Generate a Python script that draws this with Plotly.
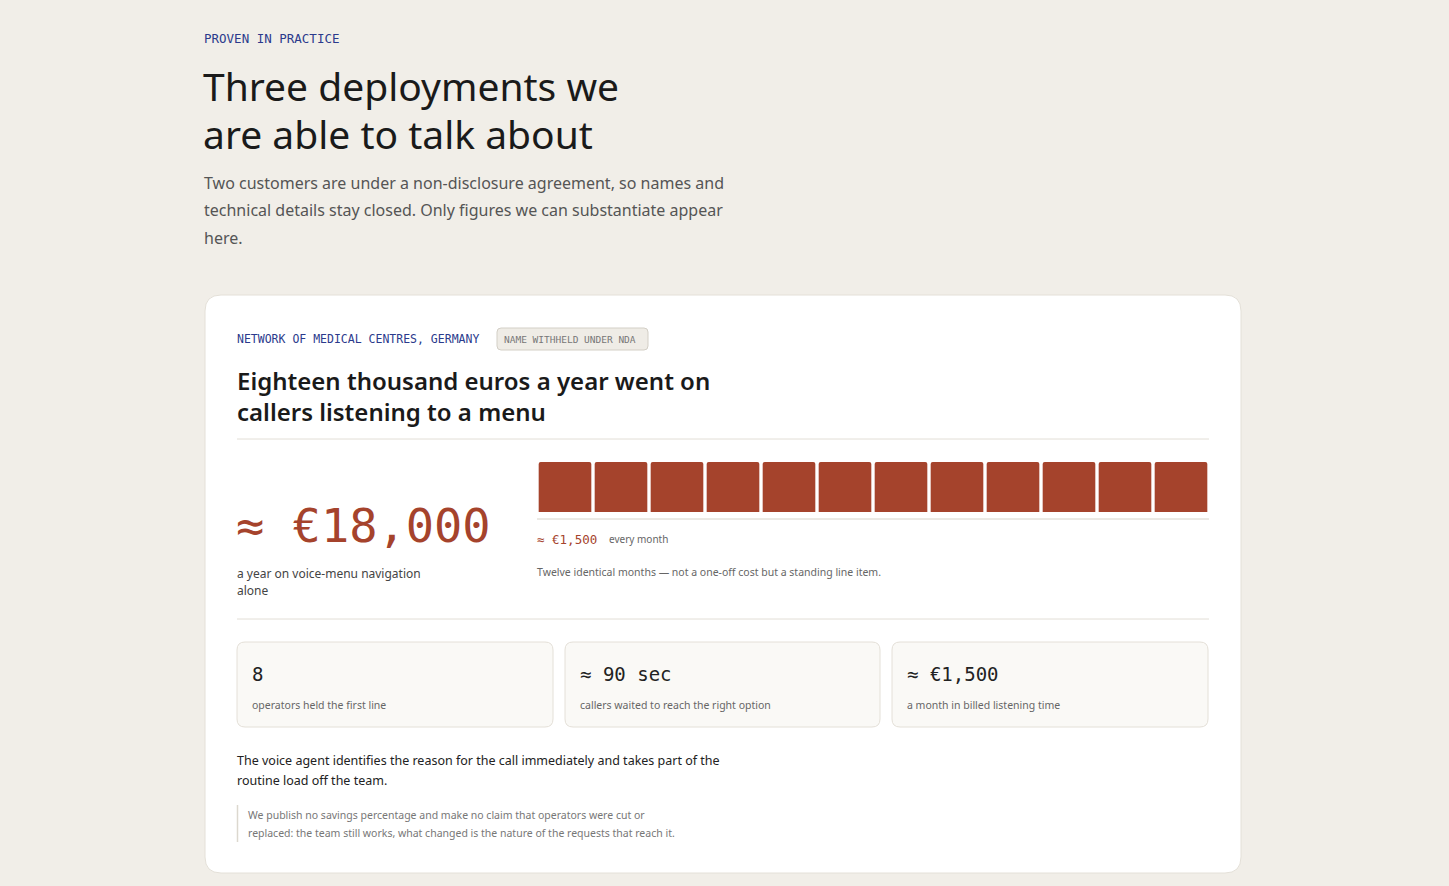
import plotly.graph_objects as go

months = ["Jan","Feb","Mar","Apr","May","Jun","Jul","Aug","Sep","Oct","Nov","Dec"]
monthly_cost = [1500]*12
stat_values = ["8", "≈ 90 sec", "≈ €1,500"]
stat_labels = ["operators held the first line", "callers waited to reach the right option", "a month in billed listening time"]

W, H = 1449, 886
def fx(px): return px / W
def fy(py): return 1 - py / H

SANS = "Noto Sans, Inter, sans-serif"
MONO = "DejaVu Sans Mono, Liberation Mono, monospace"
RUST = "#a5432c"

fig = go.Figure(go.Bar(x=months, y=monthly_cost, marker=dict(color=RUST, cornerradius=2, line=dict(width=0)),
                       hoverinfo="skip"))

def rrect(x0, y0, x1, y1, r, fill, line, lw=1):
    X0, X1 = fx(x0), fx(x1)
    Y0, Y1 = fy(y0), fy(y1)
    rx, ry = r / W, r / H
    p = (f"M {X0+rx} {Y0} L {X1-rx} {Y0} Q {X1} {Y0} {X1} {Y0-ry} "
         f"L {X1} {Y1+ry} Q {X1} {Y1} {X1-rx} {Y1} L {X0+rx} {Y1} Q {X0} {Y1} {X0} {Y1+ry} "
         f"L {X0} {Y0-ry} Q {X0} {Y0} {X0+rx} {Y0} Z")
    return dict(type="path", xref="paper", yref="paper", path=p, fillcolor=fill,
                line=dict(color=line, width=lw), layer="below")

def hline(x0, x1, y, color="#e2ded6"):
    return dict(type="line", xref="paper", yref="paper", x0=fx(x0), x1=fx(x1), y0=fy(y), y1=fy(y),
                line=dict(color=color, width=1))

shapes = [
    rrect(205, 295, 1241, 873, 16, "#ffffff", "#e4e0d8"),
    rrect(497, 328, 648, 350, 4, "#efece6", "#d3cfc6"),
    hline(237, 1209, 439),
    hline(537, 1209, 519, "#d6d2c9"),
    hline(237, 1209, 619),
    dict(type="line", xref="paper", yref="paper", x0=fx(237.5), x1=fx(237.5), y0=fy(805), y1=fy(842),
         line=dict(color="#dcd8cf", width=1.5)),
]
for bx in [(237, 553), (565, 880), (892, 1208)]:
    shapes.append(rrect(bx[0], 642, bx[1], 727, 8, "#faf9f6", "#e4e0d8"))

ann = []
def t(x, y, text, size, color, font=SANS, weight=None):
    f = dict(family=font, size=size, color=color)
    if weight: f["weight"] = weight
    ann.append(dict(x=fx(x), y=fy(y), xref="paper", yref="paper", text=text, showarrow=False,
                    xanchor="left", yanchor="middle", font=f))

t(202, 38, "PROVEN IN PRACTICE", 12.5, "#2b3a8c", MONO)
t(201, 85, "Three deployments we", 39, "#1a1a1a")
t(201, 133, "are able to talk about", 39, "#1a1a1a")
t(202, 183, "Two customers are under a non-disclosure agreement, so names and", 16, "#555555")
t(202, 210, "technical details stay closed. Only figures we can substantiate appear", 16, "#555555")
t(202, 238, "here.", 16, "#555555")

t(235, 339, "NETWORK OF MEDICAL CENTRES, GERMANY", 11.5, "#2b3a8c", MONO)
t(502, 339, "NAME WITHHELD UNDER NDA", 9.5, "#777777", MONO)
t(235, 381, "Eighteen thousand euros a year went on", 24, "#1a1a1a", weight=600)
t(235, 411, "callers listening to a menu", 24, "#1a1a1a", weight=600)

t(234, 525, "≈ €18,000", 47, RUST, MONO)
t(235, 573, "a year on voice-menu navigation", 12, "#444444")
t(235, 590, "alone", 12, "#444444")
t(535, 539, "≈ €1,500", 12.5, RUST, MONO)
t(607, 539, "every month", 10, "#666666")
t(535, 572, "Twelve identical months — not a one-off cost but a standing line item.", 10.5, "#666666")

for (x0, _), v, l in zip([(237, 553), (565, 880), (892, 1208)], stat_values, stat_labels):
    t(x0 + 13, 674, v, 19, "#222222", MONO)
    t(x0 + 13, 705, l, 10.5, "#666666")

t(235, 760, "The voice agent identifies the reason for the call immediately and takes part of the", 12.5, "#222222")
t(235, 780, "routine load off the team.", 12.5, "#222222")
t(246, 815, "We publish no savings percentage and make no claim that operators were cut or", 10.5, "#777777")
t(246, 833, "replaced: the team still works, what changed is the nature of the requests that reach it.", 10.5, "#777777")

fig.update_layout(
    width=W, height=H, autosize=False, margin=dict(l=0, r=0, t=0, b=0),
    paper_bgcolor="#f1eee8", plot_bgcolor="rgba(0,0,0,0)", showlegend=False,
    bargap=0.06, shapes=shapes, annotations=ann,
    xaxis=dict(domain=[fx(537), fx(1209)], visible=False, fixedrange=True),
    yaxis=dict(domain=[fy(512), fy(462)], range=[0, 1500], visible=False, fixedrange=True),
)
fig.write_html("out.html", config={"displayModeBar": False})

with open("out.html", encoding="utf-8") as f:
    html = f.read()
html = html.replace("<body>", '<body style="margin:0;background:#f1eee8;overflow:hidden">', 1)
with open("out.html", "w", encoding="utf-8") as f:
    f.write(html)
